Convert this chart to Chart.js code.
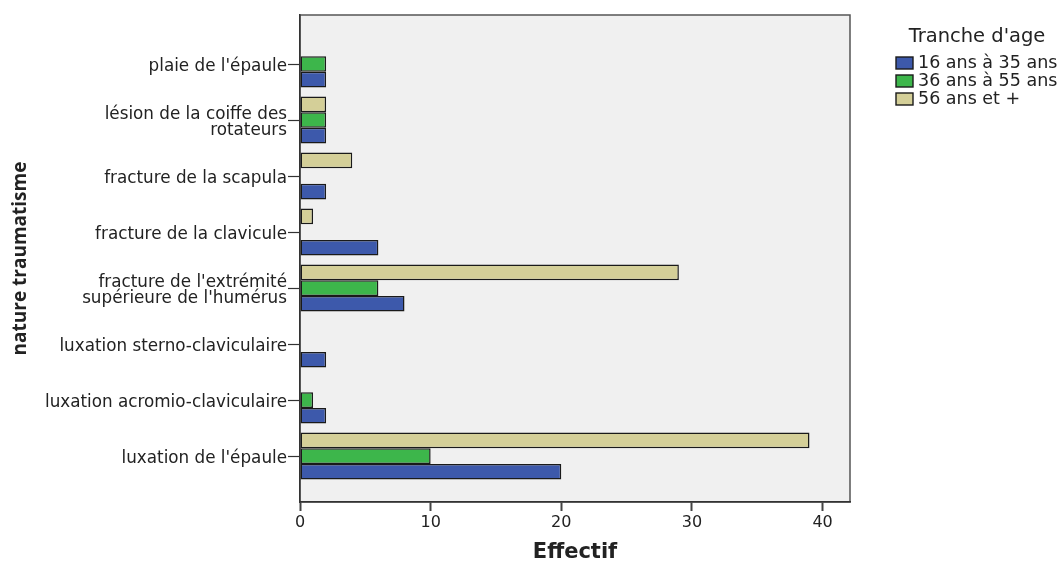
<!DOCTYPE html>
<html>
<head>
<meta charset="utf-8">
<script src="https://cdn.jsdelivr.net/npm/chart.js@4/dist/chart.umd.min.js"></script>
<style>
  html, body { margin: 0; padding: 0; background: #ffffff; }
  #wrap { width: 1062px; height: 565px; }
</style>
</head>
<body>
<div id="wrap"><canvas id="chart" width="1062" height="565"></canvas></div>
<script>
// Injury types (top to bottom) and counts per age band; null = no patients
const categories = [
  "plaie de l'épaule",
  ["lésion de la coiffe des", "rotateurs"],
  "fracture de la scapula",
  "fracture de la clavicule",
  ["fracture de l'extrémité", "supérieure de l'humérus"],
  "luxation sterno-claviculaire",
  "luxation acromio-claviculaire",
  "luxation de l'épaule"
];
const age16to35 = [2, 2, 2, 6, 8, 2, 2, 20];
const age36to55 = [2, 2, null, null, 6, null, 1, 10];
const age56plus = [null, 2, 4, 1, 29, null, null, 39];
const xTickValues = [0, 10, 20, 30, 40];

const seriesNames = ["16 ans à 35 ans", "36 ans à 55 ans", "56 ans et +"];
const legendTitle = "Tranche d'age";

const toPoints = (vals) => vals.map((v, i) => ({ y: i, x: v }));

const INK = '#222222';

// light grey plot panel with a thin frame
const panelPlugin = {
  id: 'panel',
  beforeDraw(chart) {
    const { ctx, chartArea: a } = chart;
    ctx.save();
    ctx.fillStyle = '#f0f0f0';
    ctx.fillRect(a.left, a.top, a.right - a.left, a.bottom - a.top);
    ctx.strokeStyle = '#555555';
    ctx.lineWidth = 1.5;
    ctx.strokeRect(a.left, a.top, a.right - a.left, a.bottom - a.top);
    ctx.restore();
  }
};

// legend block at the right: title + swatches in age order
const legendPlugin = {
  id: 'ageLegend',
  afterDraw(chart) {
    const { ctx } = chart;
    const ds = chart.data.datasets.slice().reverse();
    ctx.save();
    ctx.fillStyle = INK;
    ctx.textBaseline = 'middle';
    ctx.textAlign = 'center';
    ctx.font = '19.5px "DejaVu Sans"';
    ctx.fillText(legendTitle, 977, 37);
    ctx.textAlign = 'left';
    ctx.font = '17.5px "DejaVu Sans"';
    ds.forEach((d, i) => {
      const y = 57 + i * 18;
      ctx.fillStyle = d.backgroundColor;
      ctx.fillRect(896, y, 17, 12);
      ctx.strokeStyle = '#1a1a1a';
      ctx.lineWidth = 1.4;
      ctx.strokeRect(896, y, 17, 12);
      ctx.fillStyle = INK;
      ctx.fillText(d.label, 918, y + 6.5);
    });
    ctx.restore();
  }
};

const barStyle = { borderColor: '#1a1a1a', borderWidth: 1.5, borderSkipped: false,
  categoryPercentage: 0.84, barPercentage: 1.0 };

new Chart(document.getElementById('chart'), {
  type: 'bar',
  data: {
    datasets: [
      Object.assign({ label: seriesNames[2], data: toPoints(age56plus), backgroundColor: '#d4cf98' }, barStyle),
      Object.assign({ label: seriesNames[1], data: toPoints(age36to55), backgroundColor: '#3db64b' }, barStyle),
      Object.assign({ label: seriesNames[0], data: toPoints(age16to35), backgroundColor: '#3d59ab' }, barStyle)
    ]
  },
  options: {
    indexAxis: 'y',
    responsive: false,
    animation: false,
    layout: { padding: { left: 0, right: 212, top: 15, bottom: 0 } },
    plugins: { legend: { display: false }, tooltip: { enabled: false } },
    scales: {
      x: {
        type: 'linear',
        min: 0,
        max: 42.1,
        afterBuildTicks: (s) => { s.ticks = xTickValues.map(v => ({ value: v })); },
        afterFit: (s) => { s.height = 63; },
        grid: { drawOnChartArea: false, drawTicks: true, tickLength: 9, tickWidth: 2, color: '#444444' },
        border: { display: true, color: '#333333', width: 1.5 },
        ticks: { color: INK, font: { family: 'DejaVu Sans', size: 16 }, padding: 2, maxRotation: 0 },
        title: { display: true, text: 'Effectif', color: INK,
          font: { family: 'DejaVu Sans', size: 21, weight: 'bold', lineHeight: 1.2 },
          padding: { top: 2, bottom: 0 } }
      },
      y: {
        type: 'linear',
        reverse: true,
        offset: false,
        min: -0.875,
        max: 7.82,
        afterBuildTicks: (s) => { s.ticks = categories.map((_, i) => ({ value: i })); },
        afterFit: (s) => { s.width = 300; },
        grid: { offset: false, drawOnChartArea: false, drawTicks: true, tickLength: 12, tickWidth: 1.2, color: '#333333' },
        border: { display: true, color: '#333333', width: 1.5 },
        ticks: {
          color: INK,
          font: { family: 'DejaVu Sans', size: 16.8, lineHeight: 0.95 },
          padding: 1,
          labelOffset: 3,
          autoSkip: false,
          callback: (v) => categories[v]
        },
        title: { display: true, text: 'nature traumatisme', color: INK,
          font: { family: 'Open Sans', size: 19, weight: 'bold', lineHeight: 1.2 },
          padding: { top: 9, bottom: 0 } }
      }
    }
  },
  plugins: [panelPlugin, legendPlugin]
});
</script>
</body>
</html>
